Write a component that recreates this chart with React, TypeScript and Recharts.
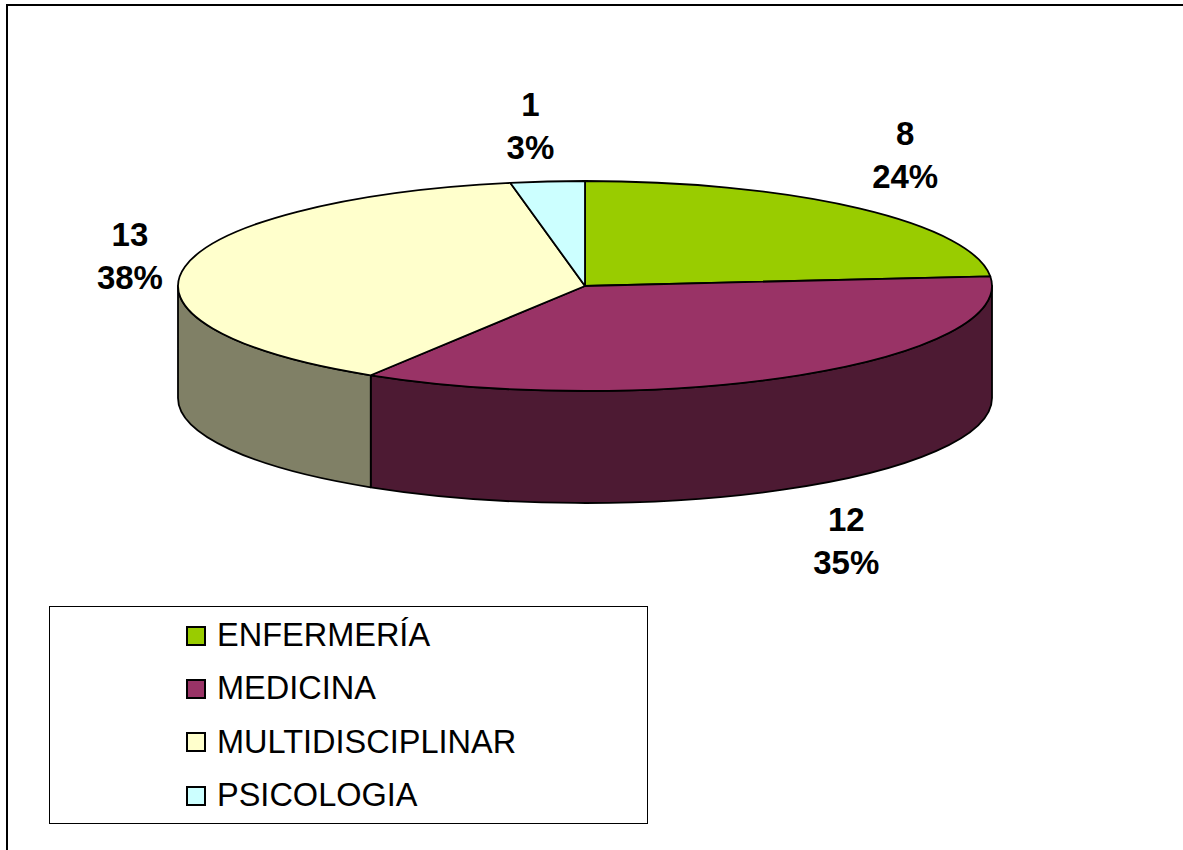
import React from "react";
import { PieChart, Pie, Legend } from "recharts";

const categories = ["ENFERMERÍA", "MEDICINA", "MULTIDISCIPLINAR", "PSICOLOGIA"];
const counts = [8, 12, 13, 1];
const percents = ["24%", "35%", "38%", "3%"];

const topColors = ["#99CC00", "#993366", "#FFFFCC", "#CCFFFF"];
const wallColors = ["#4D6600", "#4D1A33", "#808066", "#668080"];
const labelOffsets = [
  [46, -42],
  [47, 177.5],
  [-55, 1],
  [-17, -44],
];

const W = 1183;
const H = 850;
const CX = 585;
const CY = 286;
const RX = 407;
const RY = 105;
const DEPTH = 112;
const FONT = '"Liberation Sans", Arial, sans-serif';

const topRows = categories.map((name, i) => ({ name, value: counts[i], fill: topColors[i] }));
const wallRows = categories.map((name, i) => ({ name, value: counts[i], fill: wallColors[i] }));

const rad = (d: number) => (d * Math.PI) / 180;
const px = (a: number, r: number, cx: number) => cx + r * Math.cos(rad(a));
const py = (a: number, r: number, cy: number) => cy - r * (RY / RX) * Math.sin(rad(a));

function TopSector(p: any) {
  const { cx, cy, outerRadius: r, startAngle: s, endAngle: e, fill } = p;
  const ry = r * (RY / RX);
  const large = Math.abs(s - e) > 180 ? 1 : 0;
  const d = `M${cx},${cy}L${px(s, r, cx)},${py(s, r, cy)}A${r},${ry} 0 ${large} 1 ${px(e, r, cx)},${py(e, r, cy)}Z`;
  return <path d={d} fill={fill} stroke="#000" strokeWidth={1.8} strokeLinejoin="round" />;
}

function WallSector(p: any) {
  const { cx, cy, outerRadius: r, startAngle: s, endAngle: e, fill } = p;
  const a = Math.min(s, 0);
  const b = Math.max(e, -180);
  if (a <= b) return <g />;
  const ry = r * (RY / RX);
  const d =
    `M${px(a, r, cx)},${py(a, r, cy)}` +
    `A${r},${ry} 0 0 1 ${px(b, r, cx)},${py(b, r, cy)}` +
    `L${px(b, r, cx)},${py(b, r, cy) + DEPTH}` +
    `A${r},${ry} 0 0 0 ${px(a, r, cx)},${py(a, r, cy) + DEPTH}Z`;
  return <path d={d} fill={fill} stroke="#000" strokeWidth={1.8} strokeLinejoin="round" />;
}

function SliceLabel(p: any) {
  const { cx, cy, midAngle, outerRadius: r, index } = p;
  const [dx, dy] = labelOffsets[index];
  const x = px(midAngle, r, cx) + dx;
  const y = py(midAngle, r, cy) + dy;
  const common = {
    x,
    textAnchor: "middle" as const,
    fontFamily: FONT,
    fontSize: 33,
    fontWeight: 700,
    fill: "#000",
  };
  return (
    <g>
      <text {...common} y={y - 21.5}>{counts[index]}</text>
      <text {...common} y={y + 21.5}>{percents[index]}</text>
    </g>
  );
}

function LegendBox() {
  return (
    <div
      style={{
        boxSizing: "border-box",
        width: 599,
        height: 218,
        border: "1px solid #000",
        background: "#fff",
        fontFamily: FONT,
        fontSize: 32.5,
        color: "#000",
        paddingLeft: 136,
        paddingTop: 2,
      }}
    >
      {categories.map((c, i) => (
        <div key={c} style={{ display: "flex", alignItems: "center", height: 53.3 }}>
          <span
            style={{
              boxSizing: "border-box",
              display: "inline-block",
              width: 20,
              height: 20,
              border: "2px solid #000",
              background: topColors[i],
              marginRight: 11,
            }}
          />
          <span>{c}</span>
        </div>
      ))}
    </div>
  );
}

export default function App() {
  return (
    <div style={{ position: "absolute", left: 0, top: 0, width: W, height: H, overflow: "hidden", background: "#fff" }}>
      <div
        style={{
          position: "absolute",
          left: 6,
          top: 4,
          width: W + 20,
          height: H + 20,
          border: "2px solid #000",
          boxSizing: "border-box",
        }}
      />
      <div style={{ position: "absolute", left: 0, top: 0 }}>
        <PieChart width={W} height={H} margin={{ top: 0, right: 0, bottom: 0, left: 0 }}>
          <Pie
            data={wallRows}
            dataKey="value"
            nameKey="name"
            cx={CX}
            cy={CY}
            innerRadius={0}
            outerRadius={RX}
            startAngle={90}
            endAngle={-270}
            legendType="none"
            shape={WallSector}
            isAnimationActive={false}
          />
          <Pie
            data={topRows}
            dataKey="value"
            nameKey="name"
            cx={CX}
            cy={CY}
            innerRadius={0}
            outerRadius={RX}
            startAngle={90}
            endAngle={-270}
            shape={TopSector}
            label={SliceLabel}
            labelLine={false}
            isAnimationActive={false}
          />
          <Legend
            content={LegendBox}
            wrapperStyle={{ position: "absolute", left: 49, top: 606, width: 599, height: 218, bottom: "auto", right: "auto" }}
          />
        </PieChart>
      </div>
    </div>
  );
}
